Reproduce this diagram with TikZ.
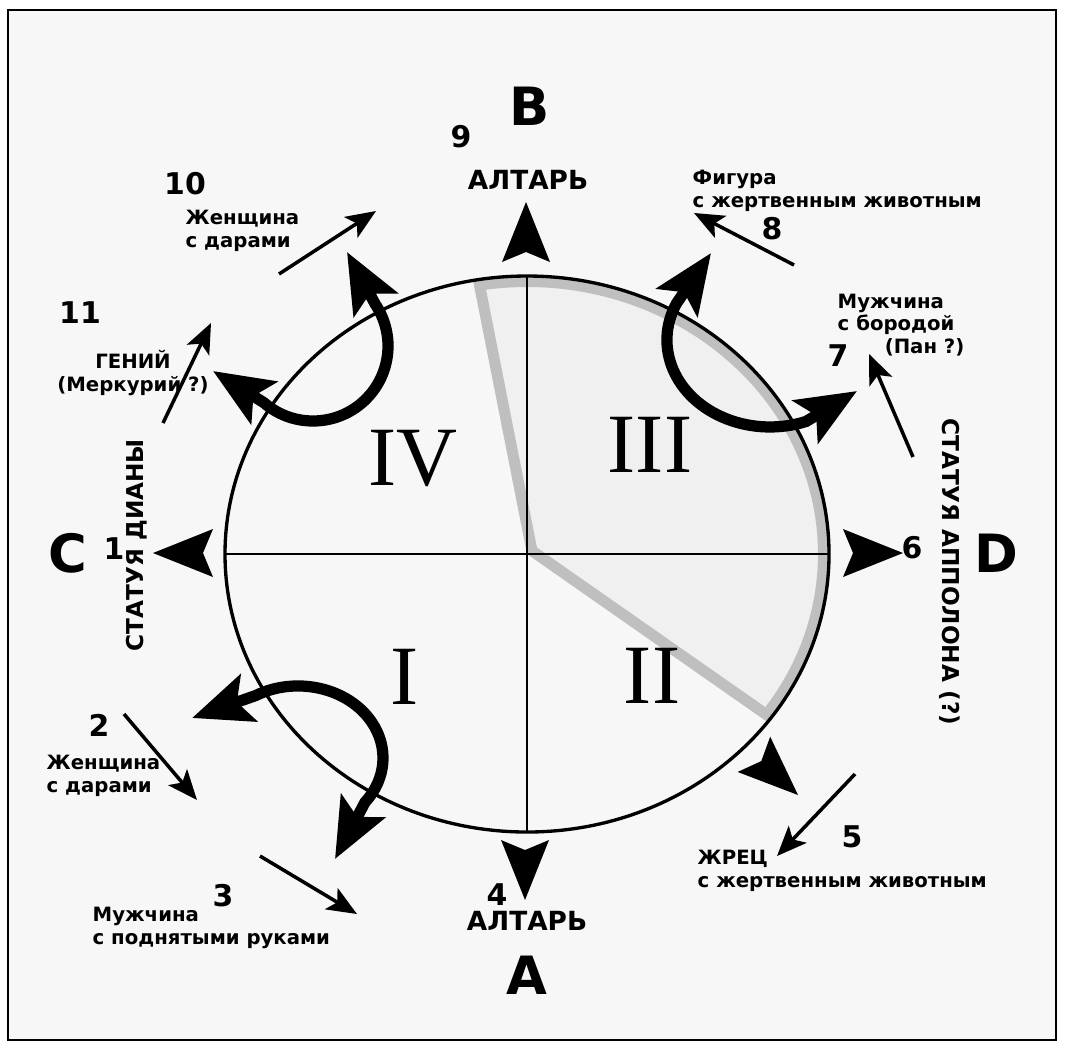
\documentclass[tikz,border=0pt]{standalone}
\usepackage{fontspec}
\setmainfont{DejaVu Sans}
\newfontfamily\romanfont{Liberation Serif}
\usetikzlibrary{arrows.meta}
\newcommand{\dirmark}[3]{\fill[shift={(#1,#2)},rotate=#3] (0,0) -- (-60,-24) -- (-50,0) -- (-60,24) -- cycle;}

\begin{document}
\begin{tikzpicture}[x=0.01cm,y=-0.01cm,
  lbl/.style={font=\fontsize{5.6}{6.4}\selectfont\bfseries,inner sep=0pt,align=left},
  num/.style={font=\fontsize{8.5}{10}\selectfont\bfseries,inner sep=0pt},
  side/.style={font=\fontsize{15}{18}\selectfont\bfseries,inner sep=0pt},
  quad/.style={font=\romanfont\fontsize{24}{27}\selectfont,inner sep=0pt},
  vert/.style={font=\fontsize{6.6}{8}\selectfont\bfseries,inner sep=0pt},
  alt/.style={font=\fontsize{7.5}{9}\selectfont\bfseries,inner sep=0pt},
  ptr/.style={line width=1pt,-{Stealth[length=8.5pt,width=7pt,inset=2pt]}},
  swing/.style={line width=3.2pt,{Stealth[length=17pt,width=14pt,inset=3.5pt]}-{Stealth[length=17pt,width=14pt,inset=3.5pt]}}]
\useasboundingbox (0,0) rectangle (1068,1045);
\draw[line width=0.7pt,fill=gray!6] (8,10) rectangle (1056,1040);
\coordinate (ctr) at (527,554);
\begin{scope}
\clip (ctr) -- (473,280.5) arc[start angle=-100.3,end angle=37.2,x radius=302,y radius=278] -- cycle;
\draw[fill=gray!12,draw=gray!50,line width=0.22cm] (ctr) -- (473,280.5) arc[start angle=-100.3,end angle=37.2,x radius=302,y radius=278] -- cycle;
\end{scope}
\draw[line width=0.95pt] (ctr) ellipse[x radius=302,y radius=278];
\draw[line width=0.6pt] (225,554) -- (829,554);
\draw[line width=0.6pt] (527,276) -- (527,832);
\node[quad] (qIV) at (413,458) {IV};
\node[quad] (qIII) at (650,445) {III};
\node[quad] (qI) at (405,677) {I};
\node[quad] (qII) at (652,676) {II};
\coordinate (iva) at (213,371);
\coordinate (ivs) at (263.8,402.6);
\coordinate (ivb) at (347,252);
\draw[swing] (iva) -- (ivs) arc[start angle=131,end angle=-34,radius=75] -- (ivb);
\coordinate (iiia) at (711,253);
\coordinate (iiis) at (676.6,303.2);
\coordinate (iiib) at (857,391);
\draw[swing] (iiia) -- (iiis) arc[start angle=205,end angle=69.5,x radius=103,y radius=87] -- (iiib);
\coordinate (ia) at (192,718);
\coordinate (is) at (255.5,695.6);
\coordinate (ib) at (335,859);
\draw[swing] (ia) -- (is) arc[start angle=-120,end angle=38,x radius=85,y radius=72] -- (ib);
\dirmark{526}{202}{90}
\dirmark{525}{900}{-90}
\dirmark{153}{553}{180}
\dirmark{903}{553}{0}
\dirmark{798}{795}{-42.7}
\node[side] (ltrB) at (530,106) {B};
\node[num] (n9) at (461,137) {9};
\node[alt] (altB) at (528,180) {АЛТАРЬ};
\node[num] (n10) at (185,184) {10};
\node[lbl,anchor=west] (t10) at (185,231) {Женщина\\с дарами};
\node[num] (n11) at (80,313) {11};
\node[lbl,align=center] (t11) at (133,373) {ГЕНИЙ\\(Меркурий ?)};
\node[lbl,anchor=west] (t8) at (692,191) {Фигура\\с жертвенным животным};
\node[num] (n8) at (772,229) {8};
\node[lbl,anchor=west] (t7) at (837,325) {Мужчина\\с бородой\\\hspace*{0.47cm}(Пан ?)};
\node[num] (n7) at (838,356) {7};
\node[side] (ltrC) at (68,553) {C};
\node[num] (n1) at (114,549) {1};
\node[vert,rotate=90] (tC) at (137,545) {СТАТУЯ ДИАНЫ};
\node[num] (n6) at (912,548) {6};
\node[side] (ltrD) at (996,553) {D};
\node[vert,rotate=-90] (tD) at (950,572) {СТАТУЯ АППОЛОНА (?)};
\node[num] (n2) at (99,725) {2};
\node[lbl,anchor=west] (t2) at (46,776) {Женщина\\с дарами};
\node[num] (n3) at (223,896) {3};
\node[lbl,anchor=west] (t3) at (92,928) {Мужчина\\с поднятыми руками};
\node[num] (n4) at (497,895) {4};
\node[alt] (altA) at (527,921) {АЛТАРЬ};
\node[side] (ltrA) at (527,975) {A};
\node[num] (n5) at (852,837) {5};
\node[lbl,anchor=west] (t5) at (697,871) {ЖРЕЦ\\с жертвенным животным};
\coordinate (p10s) at (279,274);
\coordinate (p10e) at (376,211);
\coordinate (p11s) at (163,423);
\coordinate (p11e) at (211,323);
\coordinate (p8s) at (794,265);
\coordinate (p8e) at (694,213);
\coordinate (p7s) at (913,457);
\coordinate (p7e) at (869,354);
\coordinate (p2s) at (124,714);
\coordinate (p2e) at (197,800);
\coordinate (p3s) at (260,856);
\coordinate (p3e) at (357,914);
\coordinate (p5s) at (855,774);
\coordinate (p5e) at (777,856);
\draw[ptr] (p10s) -- (p10e);
\draw[ptr] (p11s) -- (p11e);
\draw[ptr] (p8s) -- (p8e);
\draw[ptr] (p7s) -- (p7e);
\draw[ptr] (p2s) -- (p2e);
\draw[ptr] (p3s) -- (p3e);
\draw[ptr] (p5s) -- (p5e);
\end{tikzpicture}
\end{document}
